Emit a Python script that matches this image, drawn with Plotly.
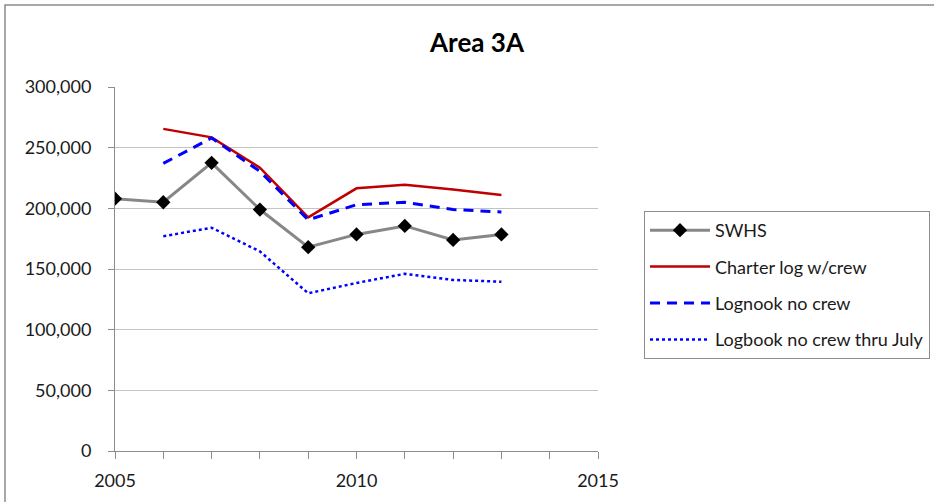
import plotly.graph_objects as go

years = [2005, 2006, 2007, 2008, 2009, 2010, 2011, 2012, 2013]
swhs = [208000, 205000, 237500, 199000, 168000, 178500, 185500, 174000, 178500]

years_log = [2006, 2007, 2008, 2009, 2010, 2011, 2012, 2013]
charter = [265500, 258500, 233500, 192500, 216500, 219500, 215500, 211000]
logbook = [237000, 258000, 230500, 190500, 203000, 205000, 199000, 197000]
logbook_july = [177000, 184000, 164500, 130000, 138500, 146000, 141000, 139500]

W, H = 934, 502
L, R, T, B = 115, 598, 87, 451  # plot area in window pixels
pw, ph = R - L, B - T

def px_x(x):
    return (x - L) / pw

def px_y(y):
    return (B - y) / ph

FONT = "Lato, Open Sans, Arial"

fig = go.Figure()
fig.add_trace(go.Scatter(x=years, y=swhs, name="SWHS", mode="lines+markers",
                         line=dict(color="#878787", width=3),
                         marker=dict(symbol="diamond", size=11, color="black"),
                         legendgroup="a"))
fig.add_trace(go.Scatter(x=years_log, y=charter, name="Charter log w/crew", mode="lines",
                         line=dict(color="#c00000", width=2.5), legendgroup="b"))
fig.add_trace(go.Scatter(x=years_log, y=logbook, name="Lognook no crew", mode="lines",
                         line=dict(color="#0000ff", width=3, dash="10px,7px"), legendgroup="c"))
fig.add_trace(go.Scatter(x=years_log, y=logbook_july, name="Logbook no crew thru July", mode="lines",
                         line=dict(color="#0000ff", width=2.5, dash="dot"), legendgroup="d"))

fig.update_layout(
    width=W, height=H,
    margin=dict(l=L, r=W - R, t=T, b=H - B, autoexpand=False),
    paper_bgcolor="white", plot_bgcolor="white",
    font=dict(family=FONT, size=18, color="#1a1a1a"),
    title=dict(text="<b>Area 3A</b>", x=477 / W, xanchor="center",
               y=1 - 43 / H, yanchor="middle", font=dict(size=26, color="black")),
    showlegend=True,
    legend=dict(x=px_x(644), y=px_y(211), xanchor="left", yanchor="top",
                bordercolor="#8c8c8c", borderwidth=1, bgcolor="white",
                font=dict(size=18, color="#1a1a1a"), traceorder="grouped",
                tracegroupgap=10, itemwidth=60),
    xaxis=dict(range=[2005, 2015], tickvals=[2005, 2010, 2015], ticktext=["2005", "2010", "2015"],
               showgrid=False, zeroline=False, showline=True, linecolor="#8c8c8c", linewidth=1,
               ticks="outside", ticklen=7, tickcolor="#8c8c8c",
               minor=dict(dtick=1, tick0=2005, ticks="outside", ticklen=7, tickcolor="#8c8c8c", showgrid=False),
               ticklabelstandoff=6),
    yaxis=dict(range=[0, 300000], dtick=50000, tickformat=",d",
               showgrid=True, gridcolor="#c4c4c4", gridwidth=1, zeroline=False,
               showline=True, linecolor="#8c8c8c", linewidth=1,
               ticks="outside", ticklen=6, tickcolor="#8c8c8c", ticklabelstandoff=13),
    shapes=[dict(type="rect", xref="paper", yref="paper",
                 x0=px_x(5), x1=px_x(945), y0=px_y(515), y1=px_y(5),
                 line=dict(color="#8c8c8c", width=1.5), fillcolor="rgba(0,0,0,0)", layer="below")],
)

fig.write_html("out.html", config={"displayModeBar": False},
               post_script="document.body.style.margin='0';document.body.style.overflow='hidden';")
